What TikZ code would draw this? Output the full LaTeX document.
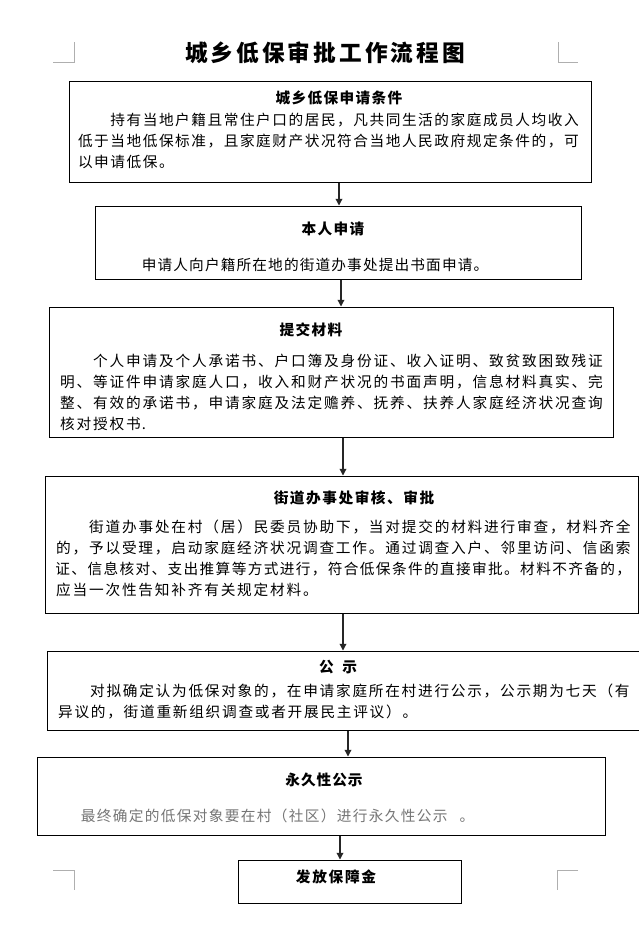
\documentclass[tikz,border=0pt]{standalone}
\usepackage{fontspec}
\newfontfamily\cjk{Noto Sans CJK SC}
\usetikzlibrary{arrows.meta,fit}
\definecolor{txtgray}{RGB}{118,118,118}
\definecolor{markgray}{RGB}{175,175,175}
\makeatletter
\newcommand\gridline[2]{\@tfor\gch:=#2\do{\makebox[#1]{\gch}}}
\newcommand\spreadline[3]{\makebox[#1][s]{\@tfor\gch:=#3\do{\makebox[#2]{\gch}\hfil}\unskip}}
\makeatother
\newcommand\bodyfont{\cjk\fontsize{11pt}{13pt}\selectfont}
\newcommand\headfont{\cjk\bfseries\fontsize{11pt}{13pt}\selectfont}
\newcommand\titlefont{\cjk\bfseries\fontsize{17pt}{20pt}\selectfont}
\begin{document}
\begin{tikzpicture}[x=0.75pt,y=-0.75pt,
  box/.style={draw=black,line width=0.75pt,inner sep=0pt},
  arr/.style={draw=black!85,line width=0.9pt,-{Triangle[width=5pt,length=5pt]}},
  cornermark/.style={draw=markgray,line width=0.75pt},
  bodytext/.style={anchor=base west,inner sep=0pt,yshift=-4.2pt,font=\bodyfont},
  headtext/.style={anchor=base,inner sep=0pt,yshift=-4.2pt,font=\headfont},
]
\fill[white] (0,0) rectangle (639,940);
\useasboundingbox (0,0) rectangle (639,940);

% corner marks
\draw[cornermark] (53,62) -- (74,62) -- (74,42);
\draw[cornermark] (558,42) -- (558,62) -- (578,62);
\draw[cornermark] (53,870) -- (74,870) -- (74,890);
\draw[cornermark] (578,870) -- (557,870) -- (557,890);

% title
\node[anchor=base,inner sep=0pt,yshift=-6.5pt,font=\titlefont] (title) at (325,53) {\gridline{19.3pt}{城乡低保审批工作流程图}};

% boxes
\node[box, fit={(69,81) (591,182)}] (b1) {};
\node[box, fit={(95,206) (581,279)}] (b2) {};
\node[box, fit={(49,307) (613,437)}] (b3) {};
\node[box, fit={(45,476) (638,613)}] (b4) {};
\node[box, fit={(47,651) (652,730)}] (b5) {};
\node[box, fit={(37,757) (605,835)}] (b6) {};
\node[box, fit={(238,860) (461,903)}] (b7) {};

% box 1
\node[headtext] (h1) at (339,98) {\gridline{12pt}{城乡低保申请条件}};
\node[bodytext] (t1a) at (109.4,120) {\gridline{12.15pt}{持有当地户籍且常住户口的居民，凡共同生活的家庭成员人均收入}};
\node[bodytext] (t1b) at (77,141) {\gridline{12.15pt}{低于当地低保标准，且家庭财产状况符合当地人民政府规定条件的，可}};
\node[bodytext] (t1c) at (77,162) {\gridline{12.15pt}{以申请低保。}};

% box 2
\node[headtext] (h2) at (333,229) {\gridline{12pt}{本人申请}};
\node[bodytext] (t2a) at (141,265) {\gridline{11.85pt}{申请人向户籍所在地的街道办事处提出书面申请。}};

% box 3
\node[headtext] (h3) at (311,330) {\gridline{12pt}{提交材料}};
\node[bodytext] (t3a) at (92,361) {\gridline{12.375pt}{个人申请及个人承诺书、户口簿及身份证、收入证明、致贫致困致残证}};
\node[bodytext] (t3b) at (59,382) {\gridline{12.375pt}{明、等证件申请家庭人口，收入和财产状况的书面声明，信息材料真实、完}};
\node[bodytext] (t3c) at (59,403) {\gridline{12.375pt}{整、有效的承诺书，申请家庭及法定赡养、抚养、扶养人家庭经济状况查询}};
\node[bodytext] (t3d) at (59,424) {\gridline{12.375pt}{核对授权书}.};

% box 4
\node[headtext] (h4) at (354,498) {\gridline{12.15pt}{街道办事处审核、审批}};
\node[bodytext] (t4a) at (88,527) {\gridline{12.345pt}{街道办事处在村（居）民委员协助下，当对提交的材料进行审查，材料齐全}};
\node[bodytext] (t4b) at (55,548) {\gridline{12.345pt}{的，予以受理，启动家庭经济状况调查工作。通过调查入户、邻里访问、信函索}};
\node[bodytext] (t4c) at (55,569) {\spreadline{432pt}{11.3pt}{证、信息核对、支出推算等方式进行，符合低保条件的直接审批。材料不齐备的，}};
\node[bodytext] (t4d) at (55,590) {\gridline{12.345pt}{应当一次性告知补齐有关规定材料。}};

% box 5
\node[headtext] (h5) at (338,667) {公\hspace{6.5pt}示};
\node[bodytext] (t5a) at (89,691) {\gridline{12.3pt}{对拟确定认为低保对象的，在申请家庭所在村进行公示，公示期为七天（有}};
\node[bodytext] (t5b) at (57,712) {\gridline{12.3pt}{异议的，街道重新组织调查或者开展民主评议）。}};

% box 6
\node[headtext] (h6) at (324,780) {\gridline{11.7pt}{永久性公示}};
\node[bodytext,text=txtgray] (t6a) at (80,816) {\gridline{12pt}{最终确定的低保对象要在村（社区）进行永久性公示}\hspace{8pt}\gridline{12pt}{。}};

% box 7
\node[headtext] (h7) at (336,877) {\gridline{12.3pt}{发放保障金}};

% connectors
\coordinate (x1) at (339,0);
\coordinate (x2) at (341,0);
\coordinate (x3) at (343,0);
\coordinate (x4) at (343,0);
\coordinate (x5) at (348,0);
\coordinate (x6) at (340,0);
\draw[arr] (b1.south -| x1) -- (b2.north -| x1);
\draw[arr] (b2.south -| x2) -- (b3.north -| x2);
\draw[arr] (b3.south -| x3) -- (b4.north -| x3);
\draw[arr] (b4.south -| x4) -- (b5.north -| x4);
\draw[arr] (b5.south -| x5) -- (b6.north -| x5);
\draw[arr] (b6.south -| x6) -- (b7.north -| x6);
\end{tikzpicture}
\end{document}
